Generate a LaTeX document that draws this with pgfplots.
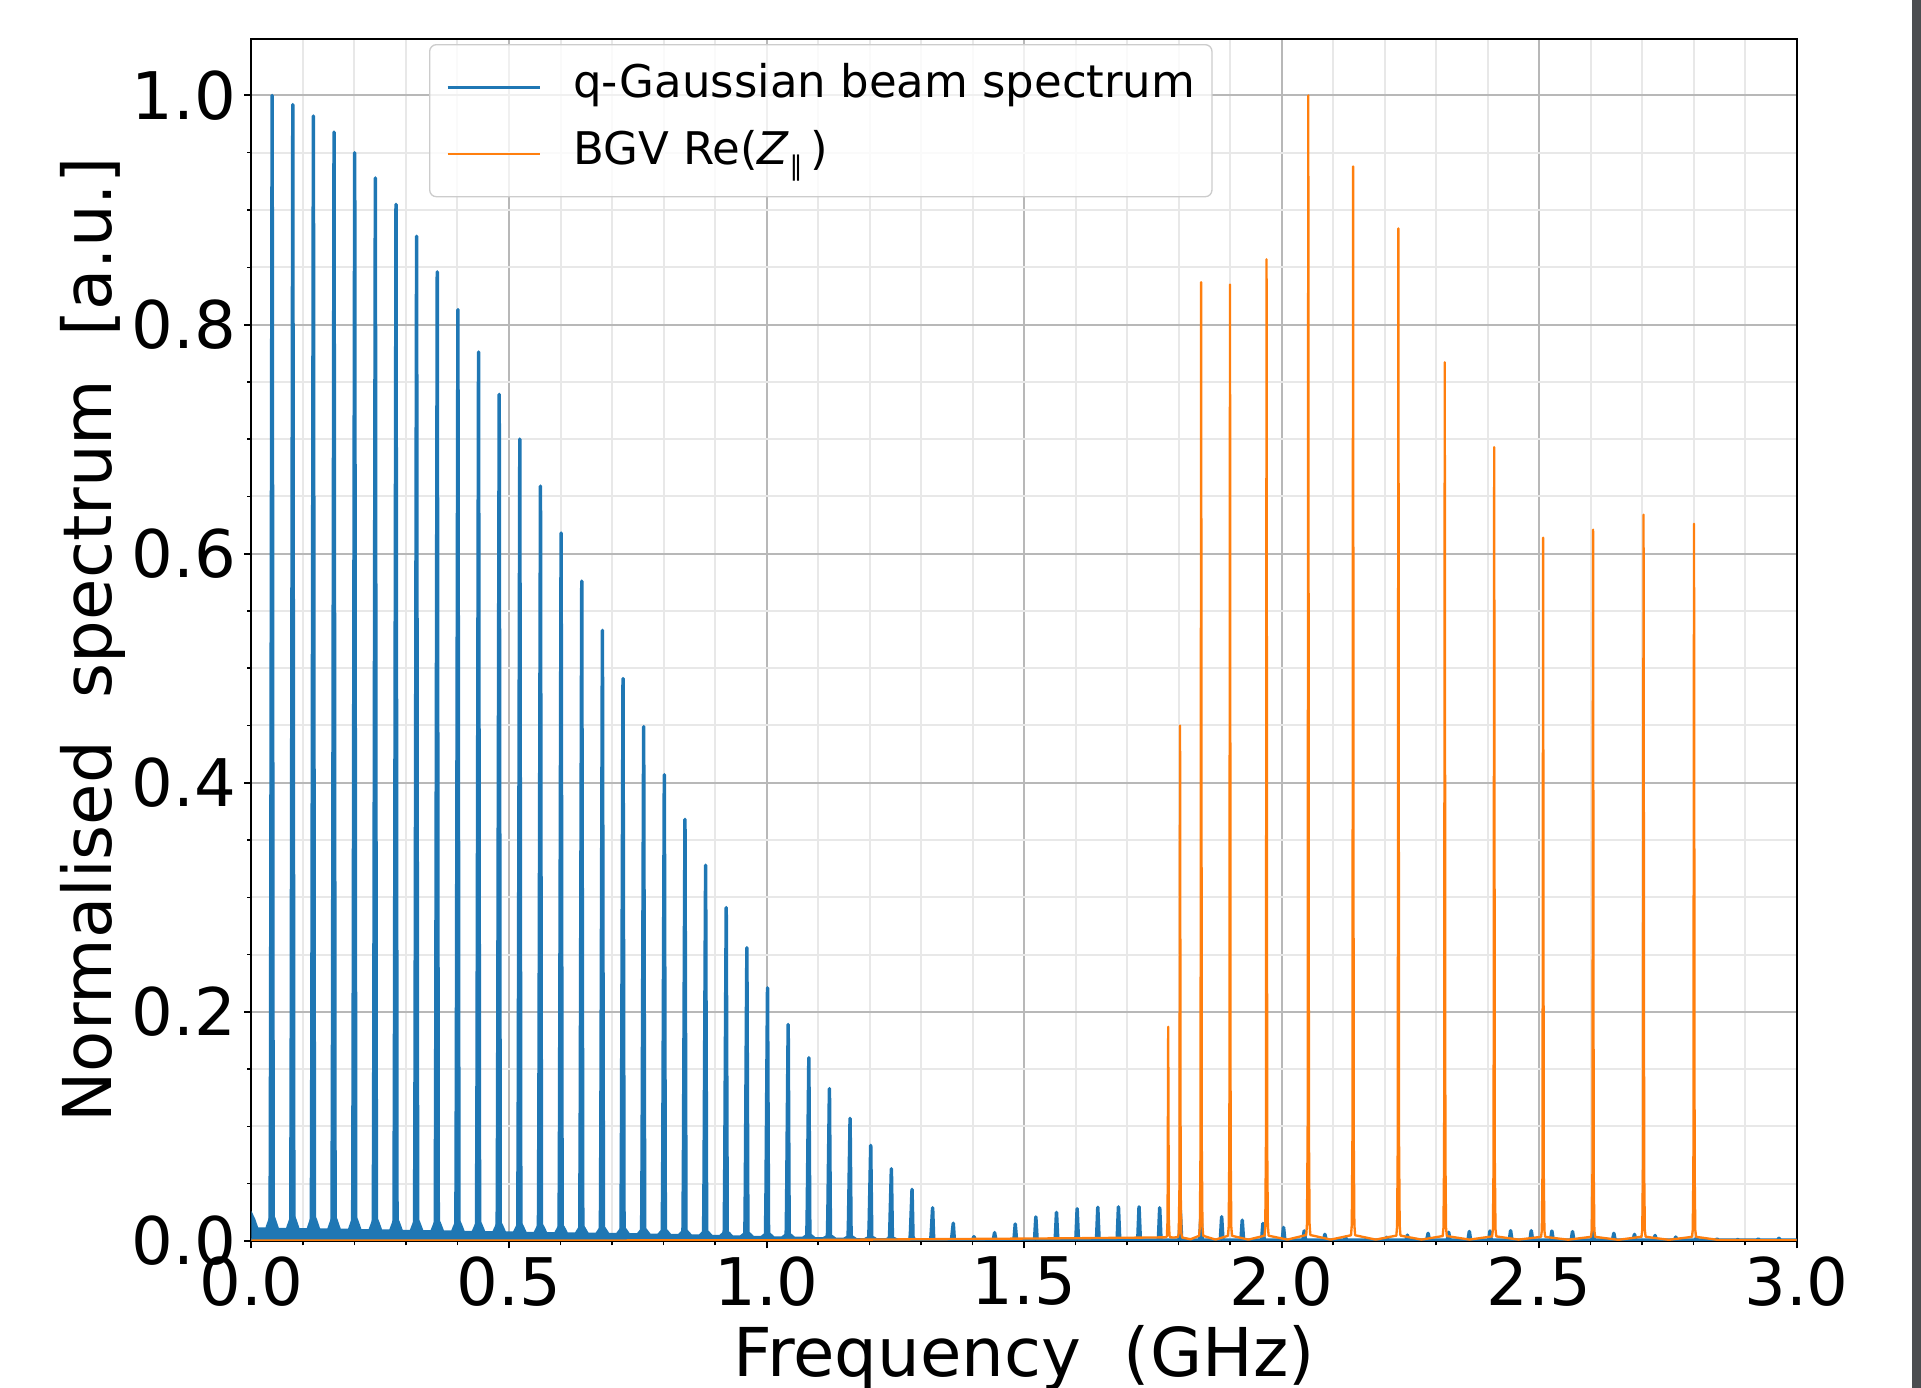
\documentclass[border=0pt]{standalone}
\usepackage{fontspec}
\setmainfont{DejaVu Sans}
\usepackage{pgfplots}
\pgfplotsset{compat=1.18}
\definecolor{mplblue}{HTML}{1F77B4}
\definecolor{mplorange}{HTML}{FF7F0E}
\definecolor{sidebar}{RGB}{75,77,80}
\begin{document}
\begin{tikzpicture}
\begin{axis}[
  set layers,
  at={(0pt,0pt)}, anchor=south west,
  scale only axis, width=463.5pt, height=360.6pt,
  xmin=0, xmax=3, ymin=0, ymax=1.0493,
  xtick={0,0.5,1,1.5,2,2.5,3}, ytick={0,0.2,0.4,0.6,0.8,1},
  minor x tick num=4, minor y tick num=3,
  tick pos=left, tick align=outside,
  major tick length=2.2pt, minor tick length=1.3pt,
  every tick/.style={black, line width=0.6pt},
  minor tick style={black, line width=0.45pt},
  axis line style={line width=0.6pt},
  grid=both,
  major grid style={draw=black!28, line width=0.6pt},
  minor grid style={draw=black!9, line width=0.6pt},
  scaled ticks=false,
  /pgf/number format/fixed, /pgf/number format/fixed zerofill,
  /pgf/number format/precision=1, /pgf/number format/assume math mode=true,
  ticklabel style={font=\fontsize{19.7pt}{23pt}\selectfont},
  xticklabel style={inner sep=0pt, anchor=north, yshift=-2.3pt},
  yticklabel style={inner sep=0pt, anchor=east, xshift=-2.15pt},
  label style={font=\fontsize{20.2pt}{24pt}\selectfont},
  xlabel={Frequency\ \ (GHz)},
  ylabel={Normalised\ \ spectrum\ \ [a.u.]},
  xlabel style={at={(axis description cs:0.5,0)}, anchor=base, yshift=-40.8pt},
  ylabel style={at={(axis description cs:-0.0904,0.5)}, anchor=base},
  legend cell align=left,
  legend image code/.code={\draw[#1] (0pt,0pt) -- (27.75pt,0pt);},
  legend style={at={(axis description cs:0.1149,0.9958)}, anchor=north west,
    draw=black!20, fill=white, fill opacity=0.8, draw opacity=1, text opacity=1,
    rounded corners=2pt, font=\fontsize{13.5pt}{16pt}\selectfont,
    inner xsep=5pt, inner ysep=5.8pt, row sep=6pt, column sep=9.5pt,
    nodes={inner sep=0pt, text height=10pt, text depth=4pt}},
]
% base band of the beam spectrum
\addplot[draw=none, fill=mplblue, forget plot] coordinates {
(0,0.0260) (0.0070,0.0196) (0.0130,0.0118)
(0.0271,0.0118) (0.0331,0.0196) (0.0401,0.0262) (0.0471,0.0196) (0.0531,0.0115)
(0.0672,0.0115) (0.0732,0.0193) (0.0802,0.0260) (0.0872,0.0193) (0.0932,0.0112)
(0.1072,0.0112) (0.1132,0.0191) (0.1202,0.0257) (0.1272,0.0191) (0.1332,0.0110)
(0.1473,0.0110) (0.1533,0.0187) (0.1603,0.0252) (0.1673,0.0187) (0.1733,0.0107)
(0.1874,0.0107) (0.1934,0.0183) (0.2004,0.0247) (0.2074,0.0183) (0.2134,0.0104)
(0.2275,0.0104) (0.2335,0.0177) (0.2405,0.0240) (0.2475,0.0177) (0.2535,0.0101)
(0.2676,0.0101) (0.2736,0.0172) (0.2806,0.0233) (0.2876,0.0172) (0.2936,0.0098)
(0.3076,0.0098) (0.3136,0.0167) (0.3206,0.0226) (0.3276,0.0167) (0.3336,0.0095)
(0.3477,0.0095) (0.3537,0.0162) (0.3607,0.0219) (0.3677,0.0162) (0.3737,0.0092)
(0.3878,0.0092) (0.3938,0.0157) (0.4008,0.0212) (0.4078,0.0157) (0.4138,0.0089)
(0.4279,0.0089) (0.4339,0.0151) (0.4409,0.0204) (0.4479,0.0151) (0.4539,0.0086)
(0.4680,0.0086) (0.4740,0.0145) (0.4810,0.0196) (0.4880,0.0145) (0.4940,0.0083)
(0.5080,0.0083) (0.5140,0.0139) (0.5210,0.0188) (0.5280,0.0139) (0.5340,0.0080)
(0.5481,0.0080) (0.5541,0.0133) (0.5611,0.0178) (0.5681,0.0133) (0.5741,0.0077)
(0.5882,0.0077) (0.5942,0.0126) (0.6012,0.0168) (0.6082,0.0126) (0.6142,0.0075)
(0.6283,0.0075) (0.6343,0.0120) (0.6413,0.0158) (0.6483,0.0120) (0.6543,0.0073)
(0.6684,0.0073) (0.6744,0.0113) (0.6814,0.0148) (0.6884,0.0113) (0.6944,0.0071)
(0.7084,0.0071) (0.7144,0.0107) (0.7214,0.0138) (0.7284,0.0107) (0.7344,0.0068)
(0.7485,0.0068) (0.7545,0.0101) (0.7615,0.0130) (0.7685,0.0101) (0.7745,0.0065)
(0.7886,0.0065) (0.7946,0.0095) (0.8016,0.0122) (0.8086,0.0095) (0.8146,0.0062)
(0.8287,0.0062) (0.8347,0.0089) (0.8417,0.0115) (0.8487,0.0089) (0.8547,0.0058)
(0.8688,0.0058) (0.8748,0.0084) (0.8818,0.0108) (0.8888,0.0084) (0.8948,0.0054)
(0.9088,0.0054) (0.9148,0.0078) (0.9218,0.0101) (0.9288,0.0078) (0.9348,0.0050)
(0.9489,0.0050) (0.9549,0.0072) (0.9619,0.0094) (0.9689,0.0072) (0.9749,0.0045)
(0.9890,0.0045) (0.9950,0.0066) (1.0020,0.0087) (1.0090,0.0066) (1.0150,0.0041)
(1.0291,0.0041) (1.0351,0.0061) (1.0421,0.0080) (1.0491,0.0061) (1.0551,0.0037)
(1.0692,0.0037) (1.0752,0.0055) (1.0822,0.0073) (1.0892,0.0055) (1.0952,0.0033)
(1.1092,0.0033) (1.1152,0.0049) (1.1222,0.0066) (1.1292,0.0049) (1.1352,0.0029)
(1.1493,0.0029) (1.1553,0.0044) (1.1623,0.0059) (1.1693,0.0044) (1.1753,0.0025)
(1.1894,0.0025) (1.1954,0.0039) (1.2024,0.0052) (1.2094,0.0039) (1.2154,0.0022)
(1.2295,0.0022) (1.2355,0.0033) (1.2425,0.0045) (1.2495,0.0033) (1.2555,0.0019)
(1.2696,0.0019) (1.2756,0.0028) (1.2826,0.0038) (1.2896,0.0028) (1.2956,0.0016)
(1.3096,0.0016) (1.3156,0.0023) (1.3226,0.0031) (1.3296,0.0023) (1.3356,0.0013)
(1.3497,0.0013) (1.3557,0.0018) (1.3627,0.0024) (1.3697,0.0018) (1.3757,0.0010)
(1.3898,0.0010) (1.3958,0.0011) (1.4028,0.0015) (1.4098,0.0011) (1.4158,0.0005)
} \closedcycle;
% comb lines of the beam spectrum
\addplot[mplblue, line width=1.05pt, line join=round, legend image post style={line width=0.8pt}] coordinates {
(0,0.001)
(0.0361,0.001) (0.0371,0.180) (0.0401,1.000) (0.0421,0.001)
(0.0762,0.001) (0.0772,0.179) (0.0802,0.992) (0.0822,0.001)
(0.1162,0.001) (0.1172,0.177) (0.1202,0.982) (0.1222,0.001)
(0.1563,0.001) (0.1573,0.174) (0.1603,0.968) (0.1623,0.001)
(0.1964,0.001) (0.1974,0.171) (0.2004,0.950) (0.2024,0.001)
(0.2365,0.001) (0.2375,0.167) (0.2405,0.928) (0.2425,0.001)
(0.2766,0.001) (0.2776,0.163) (0.2806,0.905) (0.2826,0.001)
(0.3166,0.001) (0.3176,0.158) (0.3206,0.877) (0.3226,0.001)
(0.3567,0.001) (0.3577,0.152) (0.3607,0.846) (0.3627,0.001)
(0.3968,0.001) (0.3978,0.146) (0.4008,0.813) (0.4028,0.001)
(0.4369,0.001) (0.4379,0.140) (0.4409,0.776) (0.4429,0.001)
(0.4770,0.001) (0.4780,0.133) (0.4810,0.739) (0.4830,0.001)
(0.5170,0.001) (0.5180,0.126) (0.5210,0.700) (0.5230,0.001)
(0.5571,0.001) (0.5581,0.119) (0.5611,0.659) (0.5631,0.001)
(0.5972,0.001) (0.5982,0.111) (0.6012,0.618) (0.6032,0.001)
(0.6373,0.001) (0.6383,0.104) (0.6413,0.576) (0.6433,0.001)
(0.6774,0.001) (0.6784,0.096) (0.6814,0.533) (0.6834,0.001)
(0.7174,0.001) (0.7184,0.088) (0.7214,0.491) (0.7234,0.001)
(0.7575,0.001) (0.7585,0.081) (0.7615,0.449) (0.7635,0.001)
(0.7976,0.001) (0.7986,0.073) (0.8016,0.407) (0.8036,0.001)
(0.8377,0.001) (0.8387,0.066) (0.8417,0.368) (0.8437,0.001)
(0.8778,0.001) (0.8788,0.059) (0.8818,0.328) (0.8838,0.001)
(0.9178,0.001) (0.9188,0.052) (0.9218,0.291) (0.9238,0.001)
(0.9579,0.001) (0.9589,0.046) (0.9619,0.256) (0.9639,0.001)
(0.9980,0.001) (0.9990,0.040) (1.0020,0.221) (1.0040,0.001)
(1.0381,0.001) (1.0391,0.034) (1.0421,0.189) (1.0441,0.001)
(1.0782,0.001) (1.0792,0.029) (1.0822,0.160) (1.0842,0.001)
(1.1182,0.001) (1.1192,0.024) (1.1222,0.133) (1.1242,0.001)
(1.1583,0.001) (1.1593,0.019) (1.1623,0.107) (1.1643,0.001)
(1.1984,0.001) (1.1994,0.015) (1.2024,0.0835) (1.2044,0.001)
(1.2385,0.001) (1.2395,0.011) (1.2425,0.063) (1.2445,0.001)
(1.2786,0.001) (1.2796,0.008) (1.2826,0.045) (1.2846,0.001)
(1.3186,0.001) (1.3196,0.005) (1.3226,0.029) (1.3246,0.001)
(1.3587,0.001) (1.3597,0.003) (1.3627,0.0155) (1.3647,0.001)
(1.4003,0.0008) (1.4028,0.0038) (1.4053,0.0008)
(1.4404,0.0008) (1.4429,0.0073) (1.4454,0.0008)
(1.4805,0.0008) (1.4830,0.0148) (1.4855,0.0008)
(1.5205,0.0008) (1.5230,0.0210) (1.5255,0.0008)
(1.5606,0.0008) (1.5631,0.0250) (1.5656,0.0008)
(1.6007,0.0008) (1.6032,0.0282) (1.6057,0.0008)
(1.6408,0.0008) (1.6433,0.0294) (1.6458,0.0008)
(1.6809,0.0008) (1.6834,0.0298) (1.6859,0.0008)
(1.7209,0.0008) (1.7234,0.0298) (1.7259,0.0008)
(1.7610,0.0008) (1.7635,0.0290) (1.7660,0.0008)
(1.8011,0.0008) (1.8036,0.0268) (1.8061,0.0008)
(1.8412,0.0008) (1.8437,0.0240) (1.8462,0.0008)
(1.8813,0.0008) (1.8838,0.0212) (1.8863,0.0008)
(1.9213,0.0008) (1.9238,0.0182) (1.9263,0.0008)
(1.9614,0.0008) (1.9639,0.0153) (1.9664,0.0008)
(2.0015,0.0008) (2.0040,0.0118) (2.0065,0.0008)
(2.0416,0.0008) (2.0441,0.0088) (2.0466,0.0008)
(2.0817,0.0008) (2.0842,0.0058) (2.0867,0.0008)
(2.1217,0.0008) (2.1242,0.0032) (2.1267,0.0008)
(2.1618,0.0008) (2.1643,0.0012) (2.1668,0.0008)
(2.2019,0.0008) (2.2044,0.0032) (2.2069,0.0008)
(2.2420,0.0008) (2.2445,0.0051) (2.2470,0.0008)
(2.2821,0.0008) (2.2846,0.0067) (2.2871,0.0008)
(2.3221,0.0008) (2.3246,0.0076) (2.3271,0.0008)
(2.3622,0.0008) (2.3647,0.0083) (2.3672,0.0008)
(2.4023,0.0008) (2.4048,0.0087) (2.4073,0.0008)
(2.4424,0.0008) (2.4449,0.0090) (2.4474,0.0008)
(2.4825,0.0008) (2.4850,0.0090) (2.4875,0.0008)
(2.5225,0.0008) (2.5250,0.0087) (2.5275,0.0008)
(2.5626,0.0008) (2.5651,0.0082) (2.5676,0.0008)
(2.6027,0.0008) (2.6052,0.0074) (2.6077,0.0008)
(2.6428,0.0008) (2.6453,0.0067) (2.6478,0.0008)
(2.6829,0.0008) (2.6854,0.0058) (2.6879,0.0008)
(2.7229,0.0008) (2.7254,0.0048) (2.7279,0.0008)
(2.7630,0.0008) (2.7655,0.0034) (2.7680,0.0008)
(2.8031,0.0008) (2.8056,0.0025) (2.8081,0.0008)
(2.8432,0.0008) (2.8457,0.0017) (2.8482,0.0008)
(2.8833,0.0008) (2.8858,0.0012) (2.8883,0.0008)
(2.9233,0.0008) (2.9258,0.0017) (2.9283,0.0008)
(2.9634,0.0008) (2.9659,0.0023) (2.9684,0.0008)
(3.0,0.0008)
};
\addlegendentry{q-Gaussian beam spectrum}
% BGV impedance
\addplot[mplorange, line width=0.7pt, line join=round, legend image post style={line width=0.6pt}] coordinates {
(0,0.0004) (0.5,0.0004) (1.0,0.0006) (1.2,0.0012) (1.4,0.0018) (1.6,0.0024) (1.74,0.0030)
(1.776,0.0032) (1.7775,0.0045) (1.7788,0.0187) (1.780,0.187) (1.7812,0.0187) (1.7825,0.0045) (1.784,0.0032)
(1.7915,0.0030)
(1.799,0.0035) (1.8005,0.0068) (1.8018,0.045) (1.803,0.450) (1.8042,0.045) (1.8055,0.0068) (1.807,0.0030)
(1.8235,0.0015)
(1.840,0.0045) (1.8415,0.0126) (1.8428,0.0837) (1.844,0.837) (1.8452,0.0837) (1.8465,0.0126) (1.848,0.0045)
(1.872,0.0012)
(1.896,0.0045) (1.8975,0.0125) (1.8988,0.0835) (1.900,0.835) (1.9012,0.0835) (1.9025,0.0125) (1.904,0.0045)
(1.9355,0.0012)
(1.967,0.0046) (1.9685,0.0129) (1.9698,0.0857) (1.971,0.857) (1.9722,0.0857) (1.9735,0.0129) (1.975,0.0046)
(2.0115,0.0012)
(2.048,0.0052) (2.0495,0.0150) (2.0508,0.100) (2.052,1.000) (2.0532,0.100) (2.0545,0.0150) (2.056,0.0052)
(2.0955,0.0012)
(2.135,0.0050) (2.1365,0.0141) (2.1378,0.0938) (2.139,0.938) (2.1402,0.0938) (2.1415,0.0141) (2.143,0.0050)
(2.183,0.0012)
(2.223,0.0047) (2.2245,0.0133) (2.2258,0.0884) (2.227,0.884) (2.2282,0.0884) (2.2295,0.0133) (2.231,0.0047)
(2.272,0.0012)
(2.313,0.0043) (2.3145,0.0115) (2.3158,0.0767) (2.317,0.767) (2.3182,0.0767) (2.3195,0.0115) (2.321,0.0043)
(2.365,0.0012)
(2.409,0.0040) (2.4105,0.0104) (2.4118,0.0693) (2.413,0.693) (2.4142,0.0693) (2.4155,0.0104) (2.417,0.0040)
(2.4605,0.0012)
(2.504,0.0036) (2.5055,0.0092) (2.5068,0.0614) (2.508,0.614) (2.5092,0.0614) (2.5105,0.0092) (2.512,0.0036)
(2.5565,0.0011)
(2.601,0.0036) (2.6025,0.0093) (2.6038,0.0621) (2.605,0.621) (2.6062,0.0621) (2.6075,0.0093) (2.609,0.0036)
(2.654,0.0010)
(2.699,0.0037) (2.7005,0.0095) (2.7018,0.0634) (2.703,0.634) (2.7042,0.0634) (2.7055,0.0095) (2.707,0.0037)
(2.752,0.0010)
(2.797,0.0036) (2.7985,0.0094) (2.7998,0.0626) (2.801,0.626) (2.8022,0.0626) (2.8035,0.0094) (2.805,0.0036)
(2.85,0.0008) (3.0,0.0006)
};
\addlegendentry{BGV Re(\textit{Z}\raisebox{-3.3pt}{\fontsize{8pt}{8pt}\selectfont ∥}\,)}
\end{axis}
\fill[sidebar] (498.15pt,-44.1pt) rectangle (500.85pt,372.3pt);
\pgfresetboundingbox
\path[use as bounding box] (-75.45pt,-44.1pt) rectangle (500.85pt,372.3pt);
\end{tikzpicture}
\end{document}
